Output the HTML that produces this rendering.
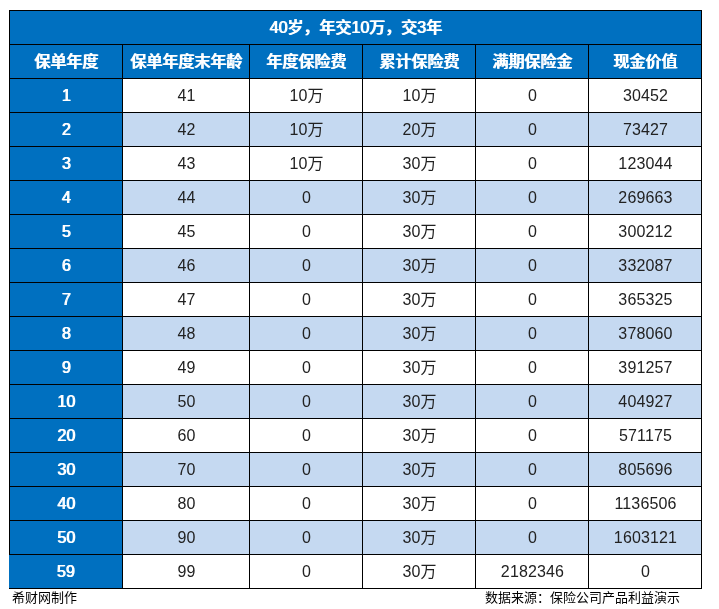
<!DOCTYPE html>
<html lang="zh-CN">
<head>
<meta charset="utf-8">
<title>40岁，年交10万，交3年</title>
<style>
html,body{margin:0;padding:0;background:#fff;}
body{width:719px;height:609px;position:relative;overflow:hidden;font-family:"Liberation Sans", "Noto Sans CJK SC", sans-serif;}
#grid{position:absolute;left:9px;top:10px;width:693px;height:579px;background:#000;}
.c{position:absolute;height:33px;display:flex;align-items:center;justify-content:center;font-size:16px;line-height:20px;color:#222;white-space:nowrap;box-sizing:border-box;padding-top:0px;}
.h{background:#0070c0;color:#fff;font-weight:500;text-shadow:1px 0 0 #fff;}
.w{background:#fff;letter-spacing:0.15px;padding-left:1px;}
.l{background:#c5d9f1;letter-spacing:0.15px;padding-left:1px;}
.f{position:absolute;font-size:13px;line-height:16px;color:#000;white-space:nowrap;}
</style>
</head>
<body>
<div id="grid">
<div class="c h" style="left:1px;top:1px;width:691px;">40岁，年交10万，交3年</div>
<div class="c h" style="left:1px;top:35px;width:112px;">保单年度</div>
<div class="c h" style="left:114px;top:35px;width:126px;">保单年度末年龄</div>
<div class="c h" style="left:241px;top:35px;width:112px;">年度保险费</div>
<div class="c h" style="left:354px;top:35px;width:112px;">累计保险费</div>
<div class="c h" style="left:467px;top:35px;width:112px;">满期保险金</div>
<div class="c h" style="left:580px;top:35px;width:112px;">现金价值</div>
<div class="c h" style="left:1px;top:69px;width:112px;">1</div>
<div class="c w" style="left:114px;top:69px;width:126px;">41</div>
<div class="c w" style="left:241px;top:69px;width:112px;">10万</div>
<div class="c w" style="left:354px;top:69px;width:112px;">10万</div>
<div class="c w" style="left:467px;top:69px;width:112px;">0</div>
<div class="c w" style="left:580px;top:69px;width:112px;">30452</div>
<div class="c h" style="left:1px;top:103px;width:112px;">2</div>
<div class="c l" style="left:114px;top:103px;width:126px;">42</div>
<div class="c l" style="left:241px;top:103px;width:112px;">10万</div>
<div class="c l" style="left:354px;top:103px;width:112px;">20万</div>
<div class="c l" style="left:467px;top:103px;width:112px;">0</div>
<div class="c l" style="left:580px;top:103px;width:112px;">73427</div>
<div class="c h" style="left:1px;top:137px;width:112px;">3</div>
<div class="c w" style="left:114px;top:137px;width:126px;">43</div>
<div class="c w" style="left:241px;top:137px;width:112px;">10万</div>
<div class="c w" style="left:354px;top:137px;width:112px;">30万</div>
<div class="c w" style="left:467px;top:137px;width:112px;">0</div>
<div class="c w" style="left:580px;top:137px;width:112px;">123044</div>
<div class="c h" style="left:1px;top:171px;width:112px;">4</div>
<div class="c l" style="left:114px;top:171px;width:126px;">44</div>
<div class="c l" style="left:241px;top:171px;width:112px;">0</div>
<div class="c l" style="left:354px;top:171px;width:112px;">30万</div>
<div class="c l" style="left:467px;top:171px;width:112px;">0</div>
<div class="c l" style="left:580px;top:171px;width:112px;">269663</div>
<div class="c h" style="left:1px;top:205px;width:112px;">5</div>
<div class="c w" style="left:114px;top:205px;width:126px;">45</div>
<div class="c w" style="left:241px;top:205px;width:112px;">0</div>
<div class="c w" style="left:354px;top:205px;width:112px;">30万</div>
<div class="c w" style="left:467px;top:205px;width:112px;">0</div>
<div class="c w" style="left:580px;top:205px;width:112px;">300212</div>
<div class="c h" style="left:1px;top:239px;width:112px;">6</div>
<div class="c l" style="left:114px;top:239px;width:126px;">46</div>
<div class="c l" style="left:241px;top:239px;width:112px;">0</div>
<div class="c l" style="left:354px;top:239px;width:112px;">30万</div>
<div class="c l" style="left:467px;top:239px;width:112px;">0</div>
<div class="c l" style="left:580px;top:239px;width:112px;">332087</div>
<div class="c h" style="left:1px;top:273px;width:112px;">7</div>
<div class="c w" style="left:114px;top:273px;width:126px;">47</div>
<div class="c w" style="left:241px;top:273px;width:112px;">0</div>
<div class="c w" style="left:354px;top:273px;width:112px;">30万</div>
<div class="c w" style="left:467px;top:273px;width:112px;">0</div>
<div class="c w" style="left:580px;top:273px;width:112px;">365325</div>
<div class="c h" style="left:1px;top:307px;width:112px;">8</div>
<div class="c l" style="left:114px;top:307px;width:126px;">48</div>
<div class="c l" style="left:241px;top:307px;width:112px;">0</div>
<div class="c l" style="left:354px;top:307px;width:112px;">30万</div>
<div class="c l" style="left:467px;top:307px;width:112px;">0</div>
<div class="c l" style="left:580px;top:307px;width:112px;">378060</div>
<div class="c h" style="left:1px;top:341px;width:112px;">9</div>
<div class="c w" style="left:114px;top:341px;width:126px;">49</div>
<div class="c w" style="left:241px;top:341px;width:112px;">0</div>
<div class="c w" style="left:354px;top:341px;width:112px;">30万</div>
<div class="c w" style="left:467px;top:341px;width:112px;">0</div>
<div class="c w" style="left:580px;top:341px;width:112px;">391257</div>
<div class="c h" style="left:1px;top:375px;width:112px;">10</div>
<div class="c l" style="left:114px;top:375px;width:126px;">50</div>
<div class="c l" style="left:241px;top:375px;width:112px;">0</div>
<div class="c l" style="left:354px;top:375px;width:112px;">30万</div>
<div class="c l" style="left:467px;top:375px;width:112px;">0</div>
<div class="c l" style="left:580px;top:375px;width:112px;">404927</div>
<div class="c h" style="left:1px;top:409px;width:112px;">20</div>
<div class="c w" style="left:114px;top:409px;width:126px;">60</div>
<div class="c w" style="left:241px;top:409px;width:112px;">0</div>
<div class="c w" style="left:354px;top:409px;width:112px;">30万</div>
<div class="c w" style="left:467px;top:409px;width:112px;">0</div>
<div class="c w" style="left:580px;top:409px;width:112px;">571175</div>
<div class="c h" style="left:1px;top:443px;width:112px;">30</div>
<div class="c l" style="left:114px;top:443px;width:126px;">70</div>
<div class="c l" style="left:241px;top:443px;width:112px;">0</div>
<div class="c l" style="left:354px;top:443px;width:112px;">30万</div>
<div class="c l" style="left:467px;top:443px;width:112px;">0</div>
<div class="c l" style="left:580px;top:443px;width:112px;">805696</div>
<div class="c h" style="left:1px;top:477px;width:112px;">40</div>
<div class="c w" style="left:114px;top:477px;width:126px;">80</div>
<div class="c w" style="left:241px;top:477px;width:112px;">0</div>
<div class="c w" style="left:354px;top:477px;width:112px;">30万</div>
<div class="c w" style="left:467px;top:477px;width:112px;">0</div>
<div class="c w" style="left:580px;top:477px;width:112px;">1136506</div>
<div class="c h" style="left:1px;top:511px;width:112px;">50</div>
<div class="c l" style="left:114px;top:511px;width:126px;">90</div>
<div class="c l" style="left:241px;top:511px;width:112px;">0</div>
<div class="c l" style="left:354px;top:511px;width:112px;">30万</div>
<div class="c l" style="left:467px;top:511px;width:112px;">0</div>
<div class="c l" style="left:580px;top:511px;width:112px;">1603121</div>
<div class="c h" style="left:0px;top:545px;width:113px;">59</div>
<div class="c w" style="left:114px;top:545px;width:126px;">99</div>
<div class="c w" style="left:241px;top:545px;width:112px;">0</div>
<div class="c w" style="left:354px;top:545px;width:112px;">30万</div>
<div class="c w" style="left:467px;top:545px;width:112px;">2182346</div>
<div class="c w" style="left:580px;top:545px;width:112px;">0</div>
</div>
<div class="f" style="left:12px;top:590px;">希财网制作</div>
<div class="f" style="right:39px;top:590px;">数据来源：保险公司产品利益演示</div>
</body>
</html>
